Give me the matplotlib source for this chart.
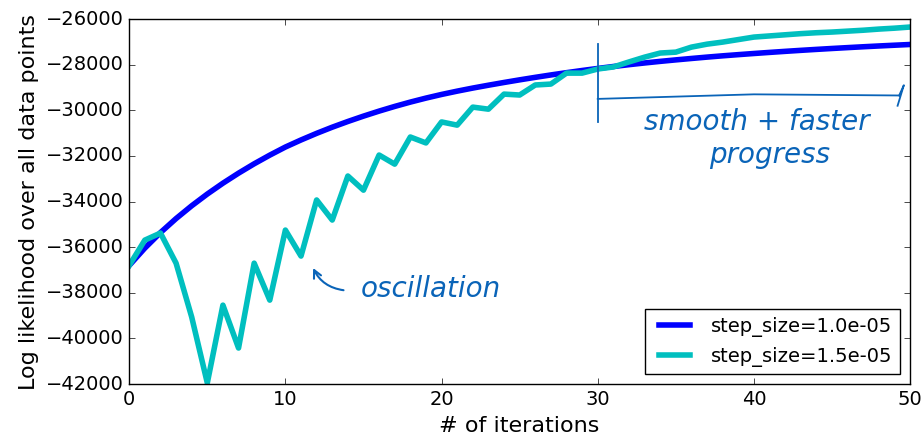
import numpy as np
import matplotlib
matplotlib.use("Agg")
import matplotlib.pyplot as plt

# log likelihood per iteration for the two step sizes
iterations = list(range(51))
ll_small_step = [-36800, -36040, -35360, -34745, -34185, -33670, -33195, -32755, -32345, -31965,
                 -31610, -31300, -31010, -30740, -30490, -30255, -30035, -29830, -29640, -29465,
                 -29305, -29160, -29025, -28900, -28780, -28665, -28555, -28450, -28350, -28255,
                 -28165, -28080, -28000, -27925, -27855, -27790, -27728, -27668, -27612, -27560,
                 -27510, -27462, -27416, -27372, -27330, -27290, -27252, -27215, -27180, -27147,
                 -27115]
ll_large_step = [-36800, -35690, -35380, -36700, -39060, -41950, -38540, -40420, -36700, -38320,
                 -35250, -36390, -33930, -34810, -32880, -33500, -31960, -32360, -31170, -31430,
                 -30510, -30650, -29860, -29950, -29290, -29330, -28890, -28850, -28370, -28370,
                 -28190, -28100, -27880, -27670, -27490, -27450, -27230, -27100, -27010, -26900,
                 -26790, -26740, -26690, -26640, -26600, -26570, -26530, -26490, -26440, -26400,
                 -26350]
labels = ["step_size=1.0e-05", "step_size=1.5e-05"]

plt.style.use("classic")
plt.rcParams["font.family"] = "DejaVu Sans"
plt.rcParams["font.size"] = 14

fig = plt.figure(figsize=(9.23, 4.43), dpi=100, facecolor="white")
ax = fig.add_axes([0.14, 0.133, 0.846, 0.824])

ax.plot(iterations, ll_small_step, color="b", linewidth=4, label=labels[0])
ax.plot(iterations, ll_large_step, color="c", linewidth=4, label=labels[1])

ax.set_xlim(0, 50)
ax.set_ylim(-42000, -26000)
ax.tick_params(labelsize=14)
ax.set_xlabel("# of iterations", fontsize=16)
ax.set_ylabel("Log likelihood over all data points", fontsize=16)
ax.legend(loc="lower right", fontsize=14, handlelength=2.2)

# handwritten-style notes
note_color = "#0a64b8"
ax.annotate("", xy=(11.7, -36800), xytext=(13.9, -37900),
            arrowprops=dict(arrowstyle="->", color=note_color, lw=1.5,
                            connectionstyle="arc3,rad=-0.3"))
ax.text(14.8, -37850, "oscillation", color=note_color, fontsize=20,
        style="italic", va="center")
ax.plot([30, 30], [-27100, -30500], color=note_color, lw=1.3)
ax.plot([30, 40, 49.3], [-29500, -29300, -29350], color=note_color, lw=1.3)
ax.plot([49.3, 49.6, 49.2], [-29350, -28900, -29800], color=note_color, lw=1.3)
ax.text(40.2, -30500, "smooth + faster", color=note_color, fontsize=20,
        style="italic", ha="center", va="center")
ax.text(41, -31950, "progress", color=note_color, fontsize=20,
        style="italic", ha="center", va="center")

fig.savefig("out.png", dpi=100, facecolor="white")
